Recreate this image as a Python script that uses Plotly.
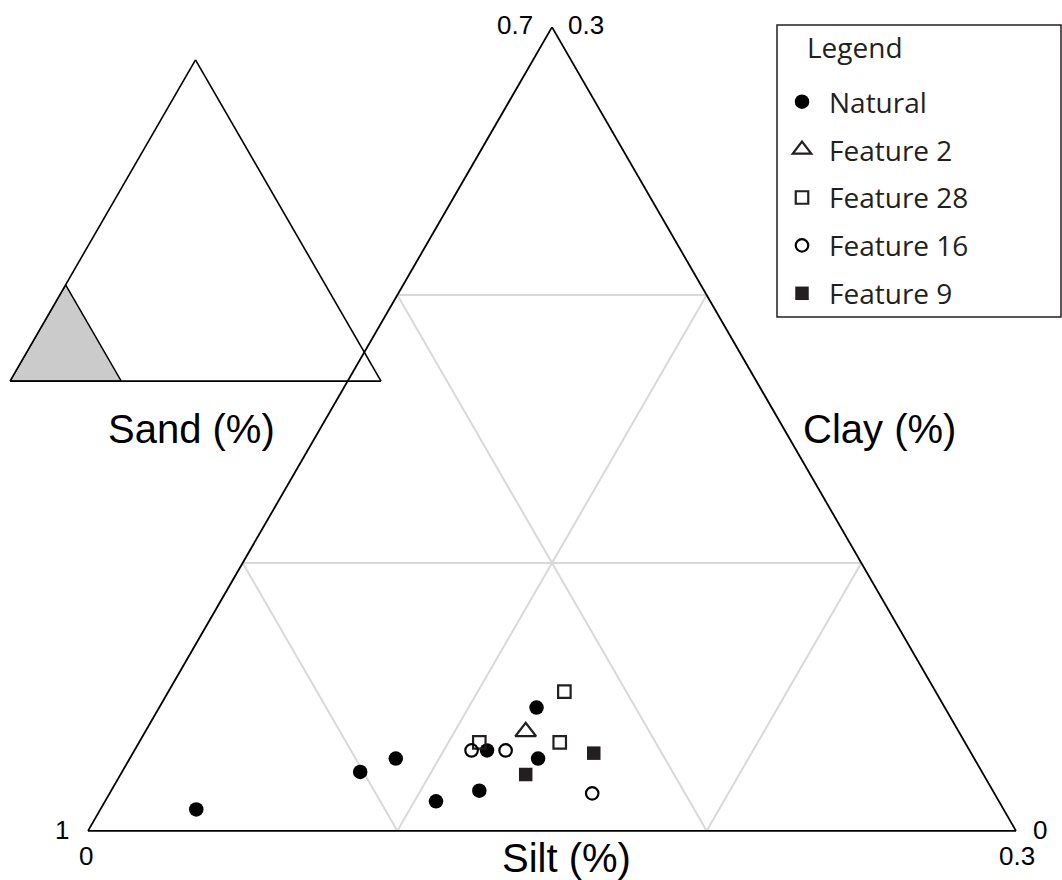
import plotly.graph_objects as go

# ---- data (fractions) ----
natural_clay = [0.008, 0.022, 0.027, 0.011, 0.015, 0.030, 0.027, 0.046]
natural_silt = [0.031, 0.077, 0.086, 0.107, 0.119, 0.114, 0.132, 0.122]
natural_sand = [0.961, 0.901, 0.887, 0.882, 0.866, 0.856, 0.841, 0.832]

f2_clay = [0.037]
f2_silt = [0.123]
f2_sand = [0.840]

f28_clay = [0.052, 0.033, 0.033]
f28_silt = [0.128, 0.136, 0.110]
f28_sand = [0.820, 0.831, 0.857]

f16_clay = [0.030, 0.030, 0.014]
f16_silt = [0.109, 0.120, 0.156]
f16_sand = [0.861, 0.850, 0.830]

f9_clay = [0.021, 0.029]
f9_silt = [0.131, 0.149]
f9_sand = [0.848, 0.822]

# zoom window shown in the inset (sand >= 0.7)
inset_clay = [0.0, 0.0, 0.3, 0.0]
inset_silt = [0.0, 0.3, 0.0, 0.0]
inset_sand = [1.0, 0.7, 0.7, 1.0]

INK = "#231f20"
W, H = 1062, 880

fig = go.Figure()

def add(name, clay, silt, sand, symbol, size, color, lw=0):
    fig.add_trace(go.Scatterternary(
        a=clay, b=sand, c=silt, mode="markers", name=name,
        legendgroup=name,
        marker=dict(symbol=symbol, size=size, color=color,
                    line=dict(width=lw, color=color)),
        subplot="ternary"))

add("Natural", natural_clay, natural_silt, natural_sand, "circle", 14.5, "#000000")
add("Feature 2", f2_clay, f2_silt, f2_sand, "triangle-up-open", 18, INK, 2.2)
add("Feature 28", f28_clay, f28_silt, f28_sand, "square-open", 12.5, INK, 2.2)
add("Feature 16", f16_clay, f16_silt, f16_sand, "circle-open", 12.5, "#000000", 2.2)
add("Feature 9", f9_clay, f9_silt, f9_sand, "square", 13.5, INK)

fig.add_trace(go.Scatterternary(
    a=inset_clay, b=inset_sand, c=inset_silt, mode="lines", fill="toself",
    fillcolor="#cbcbcb", line=dict(color="#000000", width=1.5),
    showlegend=False, hoverinfo="skip", subplot="ternary2"))

def px_x(x):
    return x / W

def px_y(y):
    return 1 - y / H

main_axis = dict(showticklabels=False, ticks="", linecolor="#000000", linewidth=1.8,
                 showgrid=True, gridcolor="#d9d9d9", gridwidth=1.5, dtick=0.1, tick0=0,
                 title=dict(text=""))
inset_axis = dict(showticklabels=False, ticks="", linecolor="#000000", linewidth=1.6,
                  showgrid=False, title=dict(text=""), min=0)

fig.update_layout(
    width=W, height=H,
    margin=dict(l=0, r=0, t=0, b=0),
    paper_bgcolor="white", plot_bgcolor="white",
    font=dict(family="Liberation Sans, Arial", color="#000000"),
    ternary=dict(
        domain=dict(x=[px_x(552 - 464), px_x(552 + 464)], y=[0.0425, 0.9825]),
        sum=1, bgcolor="rgba(0,0,0,0)",
        aaxis=dict(main_axis, min=0),
        baxis=dict(main_axis, min=0.7),
        caxis=dict(main_axis, min=0),
    ),
    ternary2=dict(
        domain=dict(x=[px_x(195.5 - 185.5), px_x(195.5 + 185.5)],
                    y=[px_y(220.5) - 0.2, px_y(220.5) + 0.2]),
        sum=1, bgcolor="rgba(0,0,0,0)",
        aaxis=inset_axis, baxis=inset_axis, caxis=inset_axis,
    ),
    legend=dict(
        x=px_x(775), y=px_y(77), xanchor="left", yanchor="top",
        bgcolor="rgba(0,0,0,0)", borderwidth=0,
        font=dict(family="Open Sans", size=28, color=INK),
        tracegroupgap=8.5, itemwidth=44,
    ),
    showlegend=True,
    shapes=[dict(type="rect", xref="paper", yref="paper",
                 x0=px_x(777), x1=px_x(1061), y0=px_y(317), y1=px_y(25),
                 line=dict(color=INK, width=1.5), fillcolor="rgba(0,0,0,0)")],
)

def label(text, x, y, size, family="Liberation Sans, Arial", color="#000000"):
    fig.add_annotation(text=text, x=px_x(x), y=px_y(y), xref="paper", yref="paper",
                       showarrow=False, xanchor="center", yanchor="middle",
                       font=dict(size=size, family=family, color=color))

# legend title
label("Legend", 855, 47, 28, "Open Sans", INK)
# vertex values
label("0.7", 515, 25, 26)
label("0.3", 586, 25, 26)
label("1", 62, 830, 26)
label("0", 86, 856, 26)
label("0", 1040, 830, 26)
label("0.3", 1017, 856, 26)
# axis titles
label("Sand (%)", 191, 429, 40)
label("Clay (%)", 879, 429, 40)
label("Silt (%)", 566, 858, 40)

fig.write_html("out.html")
